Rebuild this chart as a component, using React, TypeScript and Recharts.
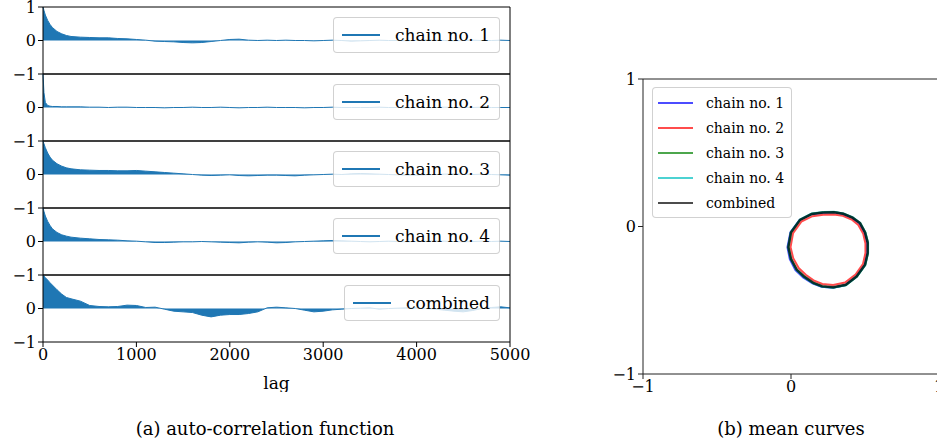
import React from "react";
import {
  AreaChart, Area, LineChart, Line, XAxis, YAxis, ReferenceLine, Legend
} from "recharts";

// lag grid (denser near 0 where the ACF drops fast)
const lags = [
  0, 10, 25, 50, 75, 100, 150, 200, 250, 300,
  400, 500, 600, 700, 800, 900, 1000,
  1100, 1200, 1300, 1400, 1500, 1600, 1700, 1800, 1900, 2000,
  2100, 2200, 2300, 2400, 2500, 2600, 2700, 2800, 2900, 3000,
  3100, 3200, 3300, 3400, 3500, 3600, 3700, 3800, 3900, 4000,
  4100, 4200, 4300, 4400, 4500, 4600, 4700, 4800, 4900, 5000,
];

const acfChain1 = [
  1.0, 0.9, 0.76, 0.6, 0.48, 0.39, 0.27, 0.2, 0.15, 0.12,
  0.1, 0.09, 0.08, 0.08, 0.06, 0.05, 0.03,
  0.01, -0.02, -0.03, -0.04, -0.06, -0.07, -0.06, -0.03, 0.0, 0.03,
  0.04, 0.01, 0.0, 0.01, 0.0, 0.01, 0.0, 0.0, -0.01, 0.0,
  0.01, 0.0, -0.02, -0.01, 0.0, 0.01, 0.0, 0.0, -0.01, 0.01,
  0.02, 0.01, 0.0, -0.01, 0.0, 0.01, 0.0, 0.0, 0.01, 0.0,
];
const acfChain2 = [
  1.0, 0.45, 0.15, 0.06, 0.04, 0.03, 0.03, 0.02, 0.02, 0.02,
  0.02, 0.01, 0.01, 0.0, 0.01, 0.01, 0.0,
  0.0, 0.0, -0.01, 0.0, 0.0, 0.01, 0.0, 0.0, 0.01, 0.0,
  -0.01, 0.0, 0.0, 0.01, 0.0, 0.0, 0.0, -0.01, 0.0, 0.0,
  0.01, 0.0, 0.0, 0.0, 0.0, 0.01, 0.0, 0.0, -0.01, 0.0,
  0.0, 0.0, 0.01, 0.0, 0.0, 0.0, 0.01, 0.0, 0.0, 0.0,
];
const acfChain3 = [
  1.0, 0.92, 0.8, 0.64, 0.52, 0.43, 0.32, 0.25, 0.2, 0.17,
  0.14, 0.13, 0.12, 0.12, 0.11, 0.11, 0.12,
  0.1, 0.08, 0.06, 0.04, 0.02, 0.0, -0.02, -0.03, -0.02, -0.01,
  -0.03, -0.04, -0.03, -0.02, -0.02, -0.03, -0.04, -0.02, -0.01, 0.0,
  0.01, 0.0, 0.02, 0.03, 0.02, 0.01, 0.0, -0.01, -0.02, -0.02,
  -0.01, 0.0, 0.01, 0.02, 0.01, 0.0, 0.01, 0.0, -0.01, -0.02,
];
const acfChain4 = [
  1.0, 0.9, 0.76, 0.6, 0.48, 0.38, 0.27, 0.2, 0.16, 0.13,
  0.1, 0.08, 0.06, 0.05, 0.04, 0.02, 0.01,
  -0.01, -0.03, -0.03, -0.02, -0.01, -0.01, 0.0, -0.01, -0.02, -0.03,
  -0.04, -0.02, -0.01, -0.02, -0.04, -0.03, -0.01, 0.0, 0.01, 0.02,
  0.03, 0.02, 0.01, 0.0, -0.01, 0.0, 0.01, 0.0, -0.01, 0.0,
  0.01, 0.02, 0.01, 0.0, -0.01, 0.0, 0.01, 0.0, 0.01, 0.0,
];
const acfCombined = [
  1.0, 0.97, 0.92, 0.85, 0.77, 0.7, 0.56, 0.43, 0.33, 0.29,
  0.22, 0.09, 0.06, 0.05, 0.06, 0.1, 0.09,
  0.03, 0.04, -0.02, -0.08, -0.1, -0.12, -0.2, -0.25, -0.2, -0.18,
  -0.18, -0.15, -0.1, 0.02, 0.04, 0.02, 0.0, -0.05, -0.1, -0.08,
  -0.04, -0.02, 0.0, 0.01, 0.02, -0.02, 0.0, 0.01, 0.02, 0.02,
  0.0, -0.02, -0.05, -0.08, -0.1, -0.06, 0.0, 0.03, 0.05, 0.02,
];

const lagTicks = [0, 1000, 2000, 3000, 4000, 5000];

const acfSeries = [
  { key: "c1", name: "chain no. 1", values: acfChain1 },
  { key: "c2", name: "chain no. 2", values: acfChain2 },
  { key: "c3", name: "chain no. 3", values: acfChain3 },
  { key: "c4", name: "chain no. 4", values: acfChain4 },
  { key: "all", name: "combined", values: acfCombined },
];

const acfRows = lags.map((lag, i) => {
  const row: Record<string, number> = { lag };
  acfSeries.forEach(s => { row[s.key] = s.values[i]; });
  return row;
});

// mean curves, (x, y) read around the loop
const meanChain1: [number, number][] = [
  [0.215, 0.093], [0.29, 0.096], [0.352, 0.085], [0.414, 0.058], [0.464, 0.021], [0.498, -0.042],
  [0.516, -0.112], [0.516, -0.182], [0.498, -0.262], [0.442, -0.34], [0.368, -0.397], [0.284, -0.415],
  [0.206, -0.408], [0.145, -0.386], [0.082, -0.345], [0.03, -0.296], [-0.008, -0.222], [-0.024, -0.14],
  [-0.004, -0.04], [0.058, 0.043], [0.138, 0.083], [0.215, 0.093],
];
const meanChain2: [number, number][] = [
  [0.218, 0.08], [0.29, 0.082], [0.35, 0.072], [0.41, 0.047], [0.455, 0.01], [0.488, -0.05],
  [0.503, -0.115], [0.503, -0.18], [0.486, -0.255], [0.436, -0.326], [0.365, -0.38], [0.285, -0.397],
  [0.212, -0.39], [0.157, -0.368], [0.1, -0.327], [0.052, -0.282], [0.015, -0.215], [-0.003, -0.14],
  [0.014, -0.045], [0.07, 0.033], [0.145, 0.07], [0.218, 0.08],
];
const meanChain3: [number, number][] = [
  [0.22, 0.096], [0.292, 0.098], [0.355, 0.087], [0.417, 0.061], [0.468, 0.023], [0.502, -0.04],
  [0.52, -0.11], [0.52, -0.181], [0.501, -0.261], [0.445, -0.34], [0.371, -0.397], [0.287, -0.414],
  [0.211, -0.406], [0.152, -0.383], [0.091, -0.341], [0.04, -0.294], [0.001, -0.221], [-0.017, -0.14],
  [0.001, -0.039], [0.062, 0.046], [0.142, 0.086], [0.22, 0.096],
];
const meanChain4: [number, number][] = [
  [0.218, 0.099], [0.29, 0.1], [0.354, 0.089], [0.416, 0.063], [0.468, 0.025], [0.503, -0.039],
  [0.521, -0.109], [0.521, -0.18], [0.502, -0.261], [0.446, -0.34], [0.371, -0.398], [0.286, -0.415],
  [0.209, -0.408], [0.15, -0.385], [0.088, -0.343], [0.037, -0.295], [-0.002, -0.221], [-0.02, -0.14],
  [-0.002, -0.038], [0.06, 0.048], [0.14, 0.088], [0.218, 0.099],
];
const meanCombined: [number, number][] = [
  [0.218, 0.095], [0.29, 0.097], [0.353, 0.086], [0.415, 0.06], [0.466, 0.023], [0.5, -0.04],
  [0.518, -0.11], [0.518, -0.18], [0.5, -0.26], [0.444, -0.338], [0.37, -0.395], [0.286, -0.412],
  [0.21, -0.405], [0.151, -0.382], [0.09, -0.34], [0.039, -0.293], [0.0, -0.22], [-0.018, -0.14],
  [0.0, -0.04], [0.061, 0.045], [0.14, 0.085], [0.218, 0.095],
];

const meanSeries = [
  { name: "chain no. 1", color: "rgba(0,0,255,0.7)", width: 2, pts: meanChain1 },
  { name: "chain no. 2", color: "rgba(255,0,0,0.7)", width: 2, pts: meanChain2 },
  { name: "chain no. 3", color: "rgba(0,128,0,0.7)", width: 2, pts: meanChain3 },
  { name: "chain no. 4", color: "rgba(0,191,191,0.7)", width: 2, pts: meanChain4 },
  { name: "combined", color: "rgba(0,0,0,0.7)", width: 2.5, pts: meanCombined },
];

const SERIF = "'DejaVu Serif', serif";
const BLUE = "#1f77b4";
const ROW_TOP = 7;
const ROW_H = 67;
const PAD = 12;
const tickStyle = { fontFamily: SERIF, fontSize: 16, fill: "#000" };
const minus = (v: number) => String(v).replace("-", "\u2212");

function AcfLegend({ name }: { name: string }) {
  return (
    <div style={{
      display: "flex", alignItems: "center", height: 34, padding: "0 9px 0 8px",
      border: "1px solid rgba(0,0,0,0.18)", borderRadius: 4, background: "rgba(255,255,255,0.8)",
      fontFamily: SERIF, fontSize: 17, color: "#000", whiteSpace: "nowrap",
    }}>
      <span style={{ display: "inline-block", width: 38, height: 2, background: BLUE, marginRight: 15 }} />
      {name}
    </div>
  );
}

function AcfRow({ idx }: { idx: number }) {
  const s = acfSeries[idx];
  const last = idx === acfSeries.length - 1;
  const axisH = 50;
  return (
    <div style={{ position: "absolute", left: 0, top: ROW_TOP + idx * ROW_H - PAD }}>
      <AreaChart
        width={545}
        height={PAD + ROW_H + (last ? axisH : PAD)}
        data={acfRows}
        margin={{ top: PAD, right: 35, bottom: last ? 0 : PAD, left: 0 }}
      >
        <XAxis
          type="number" dataKey="lag" domain={[0, 5000]} ticks={lagTicks} interval={0}
          hide={!last} height={axisH} tickSize={5} tickMargin={2}
          tick={tickStyle} axisLine={{ stroke: "#000" }} tickLine={{ stroke: "#000" }}
          label={{ value: "lag", position: "insideBottom", offset: 3, style: { fontFamily: SERIF, fontSize: 17, fill: "#000" } }}
        />
        <YAxis
          type="number" domain={[-1, 1]} ticks={idx === 0 ? [-1, 0, 1] : [-1, 0]} interval={0}
          width={43} tickSize={5} tickMargin={2} tick={tickStyle} tickFormatter={minus}
          axisLine={{ stroke: "#000" }} tickLine={{ stroke: "#000" }}
        />
        <ReferenceLine y={1} stroke="#000" />
        {!last && <ReferenceLine y={-1} stroke="#000" />}
        <ReferenceLine x={5000} stroke="#000" />
        <Area
          type="linear" dataKey={s.key} name={s.name} baseValue={0}
          stroke={BLUE} strokeWidth={1} fill={BLUE} fillOpacity={1}
          dot={false} activeDot={false} isAnimationActive={false}
        />
        <Legend
          layout="horizontal" align="center" verticalAlign="middle"
          wrapperStyle={{ top: PAD + 10, right: 45, left: "auto", width: "auto" }}
          content={() => <AcfLegend name={s.name} />}
        />
      </AreaChart>
    </div>
  );
}

function MeanLegend() {
  return (
    <div style={{
      padding: "2px 7px 2px 5px", border: "1px solid rgba(0,0,0,0.18)", borderRadius: 4,
      background: "rgba(255,255,255,0.8)", fontFamily: SERIF, fontSize: 14, color: "#000",
    }}>
      {meanSeries.map(s => (
        <div key={s.name} style={{ display: "flex", alignItems: "center", height: 25, whiteSpace: "nowrap" }}>
          <span style={{ display: "inline-block", width: 35, height: 2, background: s.color, marginRight: 13 }} />
          {s.name}
        </div>
      ))}
    </div>
  );
}

function MeanCurves() {
  return (
    <div style={{ position: "absolute", left: 600, top: 0 }}>
      <LineChart width={360} height={420} margin={{ top: 79, right: 21, bottom: 16, left: 0 }}>
        <XAxis
          type="number" dataKey="x" domain={[-1, 1]} ticks={[-1, 0, 1]} interval={0}
          height={30} tickSize={5} tickMargin={2} tick={tickStyle} tickFormatter={minus}
          axisLine={{ stroke: "#222" }} tickLine={{ stroke: "#222" }}
        />
        <YAxis
          type="number" dataKey="y" domain={[-1, 1]} ticks={[-1, 0, 1]} interval={0}
          width={43} tickSize={5} tickMargin={2} tick={tickStyle} tickFormatter={minus}
          axisLine={{ stroke: "#222" }} tickLine={{ stroke: "#222" }}
        />
        <ReferenceLine y={1} stroke="#222" />
        <ReferenceLine x={1} stroke="#222" />
        {meanSeries.map(s => (
          <Line
            key={s.name} name={s.name} type="linear"
            data={s.pts.map(([x, y]) => ({ x, y }))} dataKey="y"
            stroke={s.color} strokeWidth={s.width} dot={false} activeDot={false}
            isAnimationActive={false}
          />
        ))}
        <Legend
          layout="vertical" align="center" verticalAlign="middle"
          wrapperStyle={{ top: 87, left: 52, width: "auto" }}
          content={() => <MeanLegend />}
        />
      </LineChart>
    </div>
  );
}

const captionStyle: React.CSSProperties = {
  position: "absolute", top: 418, fontFamily: SERIF, fontSize: 18, color: "#000",
  whiteSpace: "nowrap", transform: "translateX(-50%)",
};

export default function App() {
  return (
    <div style={{ position: "fixed", left: 0, top: 0, width: 937, height: 444, overflow: "hidden", background: "#fff" }}>
      {acfSeries.map((s, i) => <AcfRow key={s.key} idx={i} />)}
      <MeanCurves />
      <div style={{ ...captionStyle, left: 265 }}>(a) auto-correlation function</div>
      <div style={{ ...captionStyle, left: 791 }}>(b) mean curves</div>
    </div>
  );
}
